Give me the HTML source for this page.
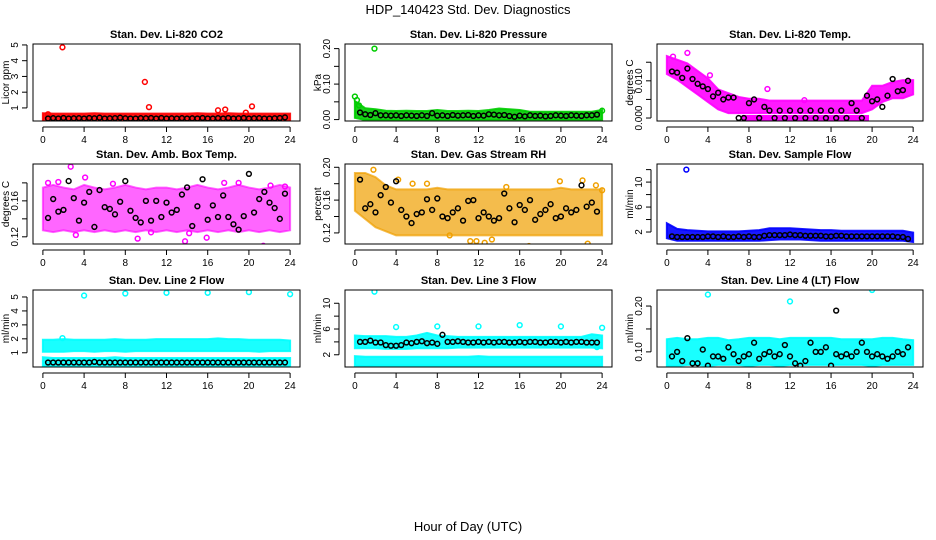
<!DOCTYPE html>
<html><head><meta charset="utf-8"><style>
html,body{margin:0;padding:0;background:#fff;}
svg{display:block;font-family:"Liberation Sans",sans-serif;}
</style></head><body>
<svg id="chart" width="936" height="540" viewBox="0 0 936 540" xmlns="http://www.w3.org/2000/svg">
<text x="468" y="14" text-anchor="middle" font-size="13">HDP_140423  Std. Dev. Diagnostics</text>
<text x="468" y="531" text-anchor="middle" font-size="13">Hour of Day (UTC)</text>
</svg>
<script>
const hours = [0,1,2,3,4,5,6,7,8,9,10,11,12,13,14,15,16,17,18,19,20,21,22,23,24];
const xTicks = [0,4,8,12,16,20,24];
// black-series sample times are 0.5,1.0,...,23.5 (47 samples)
const p1Lo = [0.25,0.25,0.25,0.25,0.25,0.25,0.25,0.25,0.25,0.25,0.25,0.25,0.25,0.25,0.25,0.25,0.25,0.25,0.25,0.25,0.25,0.25,0.25,0.25,0.25];
const p1Hi = [0.5,0.48,0.48,0.48,0.48,0.5,0.48,0.48,0.48,0.48,0.48,0.48,0.48,0.48,0.48,0.5,0.48,0.48,0.5,0.48,0.48,0.48,0.48,0.48,0.48];
const p1Black = [0.33,0.35,0.33,0.36,0.33,0.34,0.35,0.33,0.36,0.34,0.38,0.33,0.34,0.35,0.38,0.34,0.33,0.33,0.35,0.34,0.36,0.33,0.36,0.33,0.34,0.33,0.35,0.33,0.34,0.33,0.36,0.33,0.33,0.35,0.33,0.36,0.33,0.34,0.36,0.33,0.34,0.35,0.33,0.33,0.34,0.36,0.40];
const p1OutX = [1.9,9.9,10.3,17,17.7,19.7,20.3,0.5];
const p1OutY = [4.85,2.65,1.05,0.85,0.9,0.7,1.1,0.6];

const p2Lo = [0.012,0.006,0.006,0.006,0.006,0.006,0.006,0.006,0.006,0.006,0.006,0.006,0.006,0.006,0.006,0.006,0.006,0.006,0.006,0.006,0.006,0.006,0.006,0.006,0.006];
const p2Hi = [0.045,0.025,0.022,0.018,0.017,0.018,0.017,0.017,0.02,0.017,0.017,0.018,0.017,0.02,0.024,0.022,0.02,0.015,0.015,0.015,0.015,0.015,0.015,0.015,0.02];
const p2Black = [0.020,0.015,0.013,0.018,0.012,0.012,0.011,0.012,0.010,0.012,0.011,0.010,0.012,0.010,0.018,0.011,0.012,0.010,0.013,0.011,0.012,0.013,0.010,0.012,0.011,0.015,0.014,0.012,0.013,0.010,0.008,0.011,0.009,0.012,0.010,0.011,0.009,0.010,0.012,0.011,0.010,0.012,0.011,0.010,0.012,0.012,0.014];
const p2OutX = [1.9,0.0,0.2,0.4,24];
const p2OutY = [0.20,0.065,0.055,0.04,0.025];

const p3Lo = [0.0125,0.011,0.009,0.007,0.005,0.003,0.002,0.002,0.002,0.002,0.002,0.002,0.002,0.002,0.002,0.002,0.002,0.002,0.002,0.002,0.003,0.005,0.006,0.006,0.007];
const p3Hi = [0.016,0.015,0.014,0.012,0.010,0.007,0.006,0.005,0.0045,0.0045,0.004,0.004,0.004,0.004,0.004,0.004,0.004,0.004,0.004,0.004,0.008,0.008,0.009,0.0095,0.0095];
const p3Black = [0.0125,0.0122,0.0108,0.0133,0.0105,0.0092,0.0085,0.0078,0.0058,0.0068,0.0050,0.0055,0.0055,0.0000,0.0000,0.0040,0.0050,0.0000,0.0030,0.0020,0.0000,0.0020,0.0000,0.0020,0.0000,0.0020,0.0000,0.0020,0.0000,0.0020,0.0000,0.0020,0.0000,0.0020,0.0000,0.0040,0.0020,0.0000,0.0060,0.0045,0.0050,0.0030,0.0060,0.0105,0.0072,0.0075,0.0100];
const p3ZeroRun = [7.3,19.7];
const p3OutX = [2.0,0.6,9.8,13.4,4.2];
const p3OutY = [0.0175,0.0165,0.0078,0.0048,0.0115];

const p4Lo = [0.13,0.128,0.13,0.128,0.13,0.128,0.13,0.128,0.13,0.128,0.13,0.128,0.13,0.128,0.13,0.128,0.13,0.128,0.13,0.128,0.13,0.128,0.13,0.128,0.13];
const p4Hi = [0.172,0.175,0.172,0.17,0.175,0.172,0.17,0.172,0.175,0.172,0.17,0.172,0.172,0.17,0.172,0.175,0.172,0.17,0.172,0.175,0.172,0.17,0.172,0.175,0.172];
const p4Black = [0.141,0.162,0.148,0.150,0.182,0.163,0.138,0.158,0.170,0.131,0.172,0.153,0.151,0.145,0.159,0.182,0.149,0.141,0.136,0.160,0.138,0.160,0.142,0.158,0.147,0.150,0.167,0.175,0.132,0.154,0.184,0.139,0.155,0.142,0.166,0.142,0.134,0.128,0.143,0.190,0.147,0.162,0.170,0.158,0.152,0.140,0.168];
const p4OutX = [0.5,1.5,2.7,4.1,6.8,9.2,13.8,14.2,15.9,17.6,21.4,22.1,3.2,10.5,19.0,23.5];
const p4OutY = [0.180,0.181,0.198,0.186,0.179,0.118,0.115,0.124,0.119,0.180,0.110,0.177,0.122,0.125,0.180,0.176];

const p5Lo = [0.15,0.14,0.13,0.125,0.12,0.12,0.12,0.12,0.12,0.12,0.12,0.12,0.12,0.12,0.12,0.12,0.12,0.12,0.12,0.12,0.12,0.12,0.12,0.12,0.12];
const p5Hi = [0.19,0.19,0.185,0.175,0.17,0.17,0.17,0.17,0.172,0.17,0.17,0.17,0.17,0.17,0.17,0.17,0.17,0.17,0.17,0.17,0.172,0.17,0.17,0.17,0.17];
const p5Black = [0.185,0.150,0.155,0.145,0.166,0.176,0.157,0.183,0.148,0.140,0.132,0.143,0.145,0.161,0.148,0.162,0.140,0.138,0.145,0.150,0.135,0.159,0.160,0.138,0.145,0.140,0.135,0.138,0.168,0.150,0.133,0.154,0.148,0.160,0.136,0.143,0.148,0.155,0.138,0.140,0.150,0.145,0.148,0.178,0.152,0.157,0.146];
const p5OutX = [1.8,4.2,5.6,7.0,9.2,11.2,11.8,12.6,13.3,14.7,16.9,19.9,22.1,22.6,23.4,24.0];
const p5OutY = [0.197,0.185,0.180,0.180,0.117,0.110,0.110,0.108,0.112,0.176,0.104,0.183,0.184,0.107,0.178,0.172];

const p6Lo = [1.4,1.0,1.0,1.0,1.0,1.0,1.0,1.0,1.0,1.0,1.1,1.2,1.2,1.2,1.1,1.0,1.0,1.0,1.0,1.0,1.0,1.0,1.0,1.0,0.8];
const p6Hi = [3.0,2.1,1.9,1.8,1.7,1.7,1.7,1.7,1.8,1.9,2.2,2.2,2.2,2.1,2.0,1.9,1.9,1.8,1.8,1.8,1.8,1.8,1.8,1.8,1.5];
const p6Black = [1.3,1.2,1.2,1.2,1.2,1.2,1.2,1.3,1.3,1.2,1.3,1.2,1.2,1.3,1.2,1.3,1.2,1.2,1.4,1.5,1.5,1.5,1.5,1.6,1.5,1.5,1.4,1.4,1.4,1.4,1.3,1.3,1.4,1.4,1.3,1.3,1.3,1.3,1.3,1.3,1.3,1.3,1.3,1.3,1.2,1.2,0.9];
const p6OutX = [1.9];
const p6OutY = [12.0];

const p7LoA = [1.25,1.25,1.25,1.3,1.3,1.25,1.3,1.3,1.25,1.3,1.3,1.3,1.3,1.3,1.3,1.3,1.3,1.3,1.3,1.3,1.3,1.25,1.3,1.3,1.3];
const p7HiA = [1.75,1.75,1.8,1.75,1.75,1.75,1.75,1.8,1.75,1.75,1.75,1.8,1.8,1.8,1.8,1.8,1.8,1.85,1.8,1.8,1.75,1.75,1.75,1.75,1.7];
const p7LoB = [0.2,0.2,0.2,0.2,0.2,0.2,0.2,0.2,0.2,0.2,0.2,0.2,0.2,0.2,0.2,0.2,0.2,0.2,0.2,0.2,0.2,0.2,0.2,0.2,0.2];
const p7HiB = [0.5,0.45,0.45,0.45,0.45,0.45,0.45,0.5,0.45,0.45,0.45,0.45,0.45,0.45,0.45,0.45,0.45,0.45,0.45,0.45,0.45,0.45,0.45,0.45,0.45];
const p7Black = [0.30,0.30,0.30,0.30,0.30,0.30,0.30,0.30,0.30,0.35,0.30,0.30,0.30,0.30,0.30,0.30,0.30,0.30,0.30,0.30,0.30,0.30,0.30,0.30,0.30,0.30,0.30,0.30,0.30,0.30,0.30,0.30,0.30,0.30,0.30,0.30,0.30,0.30,0.30,0.30,0.30,0.30,0.30,0.30,0.30,0.30,0.30];
const p7OutX = [4,8,12,16,20,24,1.9];
const p7OutY = [5.1,5.25,5.3,5.3,5.35,5.2,2.05];

const p8LoA = [3.4,3.4,3.4,3.3,3.3,3.3,3.4,3.4,3.4,3.4,3.5,3.5,3.5,3.5,3.5,3.5,3.5,3.5,3.5,3.5,3.5,3.5,3.5,3.5,3.4];
const p8HiA = [4.6,4.5,4.5,4.5,4.4,4.4,4.6,5.0,4.6,4.5,4.4,4.4,4.4,4.4,4.4,4.4,4.4,4.4,4.4,4.4,4.4,4.4,4.4,4.8,4.6];
const p8LoB = [0.7,0.6,0.7,0.7,0.7,0.7,0.7,0.7,0.7,0.7,0.7,0.7,0.7,0.7,0.7,0.7,0.7,0.7,0.7,0.7,0.7,0.7,0.7,0.7,0.7];
const p8HiB = [1.4,1.3,1.3,1.3,1.3,1.3,1.3,1.3,1.3,1.3,1.3,1.3,1.4,1.3,1.3,1.3,1.3,1.3,1.3,1.3,1.3,1.3,1.3,1.3,1.3];
const p8Black = [4.0,4.0,4.2,3.9,3.9,3.5,3.4,3.4,3.5,3.9,3.8,4.0,4.1,3.8,3.9,3.7,5.1,4.0,4.0,4.1,4.0,3.9,3.9,4.0,3.9,4.0,3.9,4.0,4.0,3.9,3.9,4.0,3.9,4.0,4.0,3.9,3.9,4.0,4.0,3.9,4.0,3.9,4.0,4.0,3.9,3.9,3.9];
const p8OutX = [1.9,4,8,12,16,20,24,23.5];
const p8OutY = [11.8,6.3,6.4,6.4,6.6,6.4,6.2,3.2];

const p9Lo = [0.075,0.075,0.077,0.077,0.075,0.077,0.077,0.077,0.075,0.077,0.077,0.075,0.077,0.077,0.077,0.077,0.077,0.077,0.077,0.077,0.075,0.077,0.077,0.077,0.077];
const p9Hi = [0.122,0.125,0.122,0.122,0.125,0.125,0.12,0.122,0.125,0.125,0.125,0.122,0.125,0.125,0.125,0.125,0.125,0.122,0.122,0.122,0.122,0.125,0.125,0.122,0.12];
const p9Black = [0.090,0.100,0.080,0.130,0.075,0.075,0.105,0.070,0.090,0.090,0.085,0.110,0.095,0.080,0.090,0.095,0.120,0.085,0.095,0.100,0.090,0.095,0.115,0.090,0.075,0.070,0.080,0.120,0.100,0.100,0.110,0.070,0.095,0.090,0.095,0.090,0.100,0.120,0.100,0.090,0.095,0.090,0.085,0.090,0.100,0.095,0.110];
const p9OutX = [4,12,20];
const p9OutY = [0.225,0.21,0.235];
const p9BlackOutX = [16.5];
const p9BlackOutY = [0.19];

const NS = 'http://www.w3.org/2000/svg';
const svg = document.getElementById('chart');
function mk(tag, attrs, parent){
  const e = document.createElementNS(NS, tag);
  for (const k in attrs) e.setAttribute(k, attrs[k]);
  (parent||svg).appendChild(e);
  return e;
}
const cols = [[33,300],[345,612],[657,923]];
const rows = [[44,121],[164,244],[290,367]];

const panels = [
 {id:'co2',title:'Stan. Dev. Li-820 CO2',ylab:'Licor ppm',c:0,r:0,top:5.06,bot:0.17,ticks:[1,2,3,4,5],labels:[1,2,3,4,5],fmt:v=>String(v),color:'#ff0000',op:0.9,bands:[[p1Lo,p1Hi]],black:p1Black,ox:p1OutX,oy:p1OutY},
 {id:'pressure',title:'Stan. Dev. Li-820 Pressure',ylab:'kPa',c:1,r:0,top:0.213,bot:-0.004,ticks:[0,0.05,0.1,0.15,0.2],labels:[0,0.1,0.2],fmt:v=>v.toFixed(2),color:'#00cc00',op:0.9,bands:[[p2Lo,p2Hi]],black:p2Black,ox:p2OutX,oy:p2OutY},
 {id:'licor-temp',title:'Stan. Dev. Li-820 Temp.',ylab:'degrees C',c:2,r:0,top:0.0199,bot:-0.0008,ticks:[0,0.005,0.01,0.015],labels:[0,0.01],fmt:v=>v.toFixed(3),color:'#ff00ff',op:0.9,bands:[[p3Lo,p3Hi]],black:p3Black,ox:p3OutX,oy:p3OutY,zero:p3ZeroRun},
 {id:'amb-temp',title:'Stan. Dev. Amb. Box Temp.',ylab:'degrees C',c:0,r:1,top:0.201,bot:0.112,ticks:[0.12,0.14,0.16,0.18],labels:[0.12,0.16],fmt:v=>v.toFixed(2),color:'#ff00ff',op:0.6,bands:[[p4Lo,p4Hi]],black:p4Black,ox:p4OutX,oy:p4OutY},
 {id:'gas-rh',title:'Stan. Dev. Gas Stream RH',ylab:'percent',c:1,r:1,top:0.204,bot:0.1065,ticks:[0.12,0.14,0.16,0.18,0.2],labels:[0.12,0.16,0.2],fmt:v=>v.toFixed(2),color:'#f0a000',op:0.7,bands:[[p5Lo,p5Hi]],black:p5Black,ox:p5OutX,oy:p5OutY},
 {id:'sample-flow',title:'Stan. Dev. Sample Flow',ylab:'ml/min',c:2,r:1,top:12.9,bot:0.08,ticks:[2,4,6,8,10,12],labels:[2,6,10],fmt:v=>String(v),color:'#0000ff',op:0.9,bands:[[p6Lo,p6Hi]],black:p6Black,ox:p6OutX,oy:p6OutY},
 {id:'line2-flow',title:'Stan. Dev. Line 2 Flow',ylab:'ml/min',c:0,r:2,top:5.5,bot:-0.02,ticks:[1,2,3,4,5],labels:[1,2,3,4,5],fmt:v=>String(v),color:'#00ffff',op:0.9,bands:[[p7LoA,p7HiA],[p7LoB,p7HiB]],black:p7Black,ox:p7OutX,oy:p7OutY},
 {id:'line3-flow',title:'Stan. Dev. Line 3 Flow',ylab:'ml/min',c:1,r:2,top:12.06,bot:0.1,ticks:[2,4,6,8,10],labels:[2,6,10],fmt:v=>String(v),color:'#00ffff',op:0.9,bands:[[p8LoA,p8HiA],[p8LoB,p8HiB]],black:p8Black,ox:p8OutX,oy:p8OutY},
 {id:'line4-flow',title:'Stan. Dev. Line 4 (LT) Flow',ylab:'ml/min',c:2,r:2,top:0.235,bot:0.067,ticks:[0.1,0.15,0.2],labels:[0.1,0.2],fmt:v=>v.toFixed(2),color:'#00ffff',op:0.9,bands:[[p9Lo,p9Hi]],black:p9Black,ox:p9OutX,oy:p9OutY,bx:p9BlackOutX,by:p9BlackOutY}
];

panels.forEach(p=>{
  const [x0,x1] = cols[p.c], [y0,y1] = rows[p.r];
  const xs = h => x0 + (h+0.96)/25.92*(x1-x0);
  const ys = v => y0 + (p.top - v)/(p.top - p.bot)*(y1-y0);
  const g = mk('g',{});
  
  
  const clip = mk('clipPath',{id:'clip-'+p.id}, g);
  mk('rect',{x:x0,y:y0,width:x1-x0,height:y1-y0}, clip);
  const plot = mk('g',{'clip-path':'url(#clip-'+p.id+')'}, g);
  p.bands.forEach((b,bi)=>{
    const [lo,hi] = b;
    let pts = hours.map((h,i)=>xs(h)+','+(ys(hi[i])-2.5));
    pts = pts.concat(hours.slice().reverse().map((h,j)=>{const i=hours.length-1-j;return xs(h)+','+(ys(lo[i])+2.5);}));
    const poly = mk('polygon',{points:pts.join(' '),fill:p.color,'fill-opacity':p.op,stroke:p.color,'stroke-width':2,'stroke-opacity':p.op}, plot);
    
    
  });
  if (p.zero){
    const z = mk('rect',{x:xs(p.zero[0]),y:ys(0)-3,width:xs(p.zero[1])-xs(p.zero[0]),height:6,fill:p.color}, plot);
    
    
  }
  p.ox.forEach((x,i)=>{
    const c = mk('circle',{cx:xs(x),cy:ys(p.oy[i]),r:2.4,fill:'none',stroke:p.color,'stroke-width':1.5}, plot);
    
    
  });
  p.black.forEach((v,i)=>{
    const c = mk('circle',{cx:xs(0.5+0.5*i),cy:ys(v),r:2.4,fill:'none',stroke:'#000','stroke-width':1.5}, plot);
    
    
  });
  if (p.bx) p.bx.forEach((x,i)=>{
    const c = mk('circle',{cx:xs(x),cy:ys(p.by[i]),r:2.4,fill:'none',stroke:'#000','stroke-width':1.5}, plot);
    
    
  });
  const box = mk('rect',{x:x0,y:y0,width:x1-x0,height:y1-y0,fill:'none',stroke:'#000','stroke-width':1}, g);
  
  
  const t = mk('text',{x:(x0+x1)/2,y:y0-6,'text-anchor':'middle','font-size':11,'font-weight':'bold'}, g);
  t.textContent = p.title;
  
  
  mk('line',{x1:xs(0),x2:xs(24),y1:y1+6,y2:y1+6,stroke:'#000'}, g);
  xTicks.forEach(h=>{
    mk('line',{x1:xs(h),x2:xs(h),y1:y1+6,y2:y1+11,stroke:'#000'}, g);
    const l = mk('text',{x:xs(h),y:y1+22,'text-anchor':'middle','font-size':10}, g);
    l.textContent = h;
    
    
  });
  const ax = x0-6;
  mk('line',{x1:ax,x2:ax,y1:ys(p.ticks[0]),y2:ys(p.ticks[p.ticks.length-1]),stroke:'#000'}, g);
  p.ticks.forEach(v=>{
    mk('line',{x1:ax-5,x2:ax,y1:ys(v),y2:ys(v),stroke:'#000'}, g);
  });
  p.labels.forEach(v=>{
    const l = mk('text',{x:ax-9,y:ys(v),'text-anchor':'middle','font-size':10,transform:'rotate(-90 '+(ax-9)+' '+ys(v)+')'}, g);
    l.textContent = p.fmt(v);
    
    
  });
  const yx = ax-18;
  const yl = mk('text',{x:yx,y:(y0+y1)/2,'text-anchor':'middle','font-size':10,transform:'rotate(-90 '+yx+' '+((y0+y1)/2)+')'}, g);
  yl.textContent = p.ylab;
  
  
});
</script>
</body></html>
